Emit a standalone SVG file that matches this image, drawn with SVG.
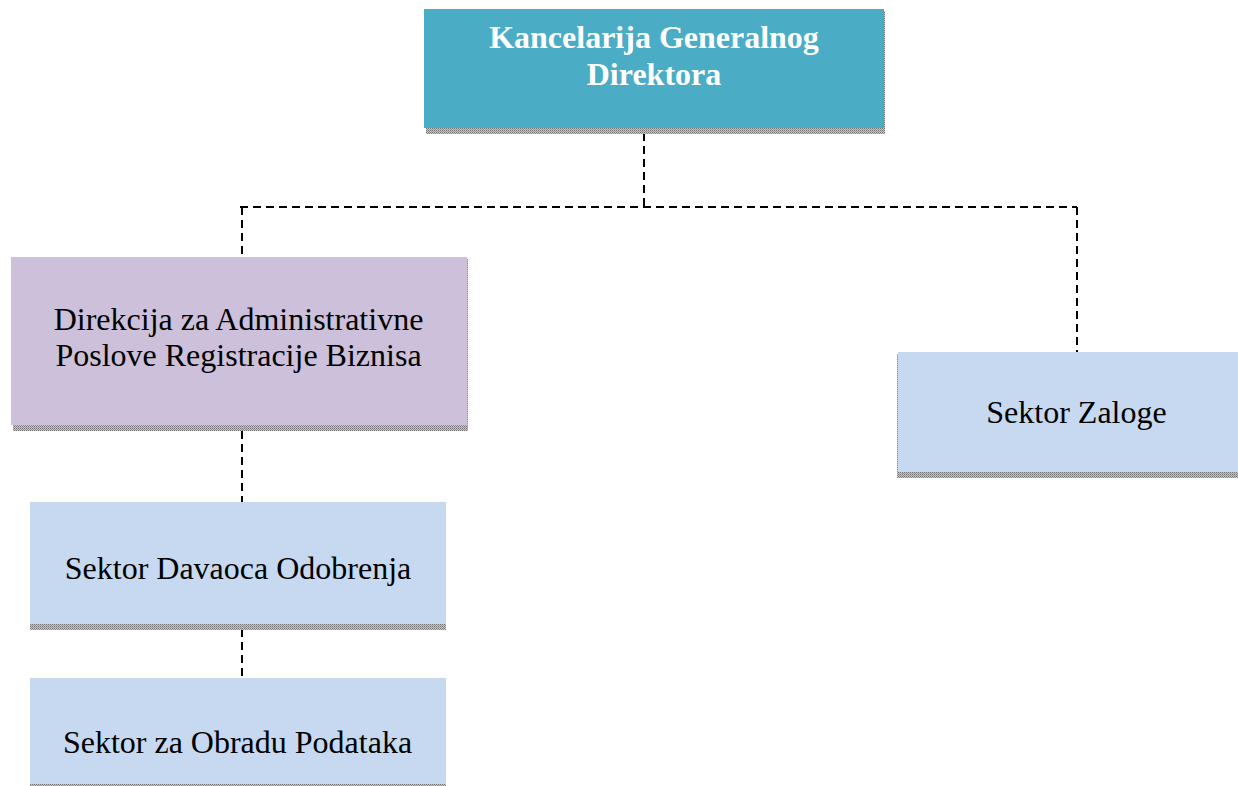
<svg xmlns="http://www.w3.org/2000/svg" width="1238" height="786" viewBox="0 0 1238 786">
<defs>
<pattern id="sh" width="2" height="2" patternUnits="userSpaceOnUse">
<rect width="2" height="2" fill="#c8c8c8"/>
<rect width="1" height="1" fill="#707070"/>
<rect x="1" y="1" width="1" height="1" fill="#909090"/>
</pattern>
</defs>
<style>
text{font-family:'Liberation Serif', 'Times New Roman', serif;font-size:32px;text-anchor:middle}
.t{fill:#000}
.tb{font-weight:bold;fill:#fff}
.c{fill:none;stroke:#000;stroke-width:2;stroke-dasharray:8 5}
.s{fill:url(#sh)}
</style>
<rect width="1238" height="786" fill="#fff"/>
<g id="connectors">
<line class="c" x1="644" y1="133" x2="644" y2="207"/>
<line class="c" x1="240" y1="207" x2="1077" y2="207"/>
<line class="c" x1="242" y1="207" x2="242" y2="257"/>
<line class="c" x1="1077" y1="207" x2="1077" y2="352"/>
<line class="c" x1="242" y1="431" x2="242" y2="502"/>
<line class="c" x1="242" y1="629" x2="242" y2="678"/>
</g>
<g id="n1">
<rect class="s" x="426" y="128" width="459" height="6"/>
<rect class="s" x="883" y="11" width="2" height="120"/>
<rect x="424" y="9" width="460" height="119" fill="#4BACC6"/>
<text class="tb" x="654" y="48">Kancelarija Generalnog</text>
<text class="tb" x="654" y="85">Direktora</text>
</g>
<g id="n2">
<rect class="s" x="13" y="425" width="455" height="6"/>
<rect class="s" x="466" y="259" width="2" height="168"/>
<rect x="11" y="257" width="456" height="168" fill="#CCC0DA"/>
<text class="t" x="238.5" y="330">Direkcija za Administrativne</text>
<text class="t" x="238.5" y="366">Poslove Registracije Biznisa</text>
</g>
<g id="n3">
<rect class="s" x="897" y="472" width="341" height="6"/>
<rect class="s" x="897" y="354" width="2" height="120"/>
<rect x="898" y="352" width="340" height="120" fill="#C6D9F1"/>
<text class="t" x="1076.5" y="423">Sektor Zaloge</text>
</g>
<g id="n4">
<rect class="s" x="30" y="624" width="416" height="6"/>
<rect x="30" y="502" width="416" height="122" fill="#C6D9F1"/>
<text class="t" x="238" y="579">Sektor Davaoca Odobrenja</text>
</g>
<g id="n5">
<rect class="s" x="30" y="784" width="416" height="2"/>
<rect x="30" y="678" width="416" height="106" fill="#C6D9F1"/>
<text class="t" x="237.5" y="753">Sektor za Obradu Podataka</text>
</g>
</svg>
